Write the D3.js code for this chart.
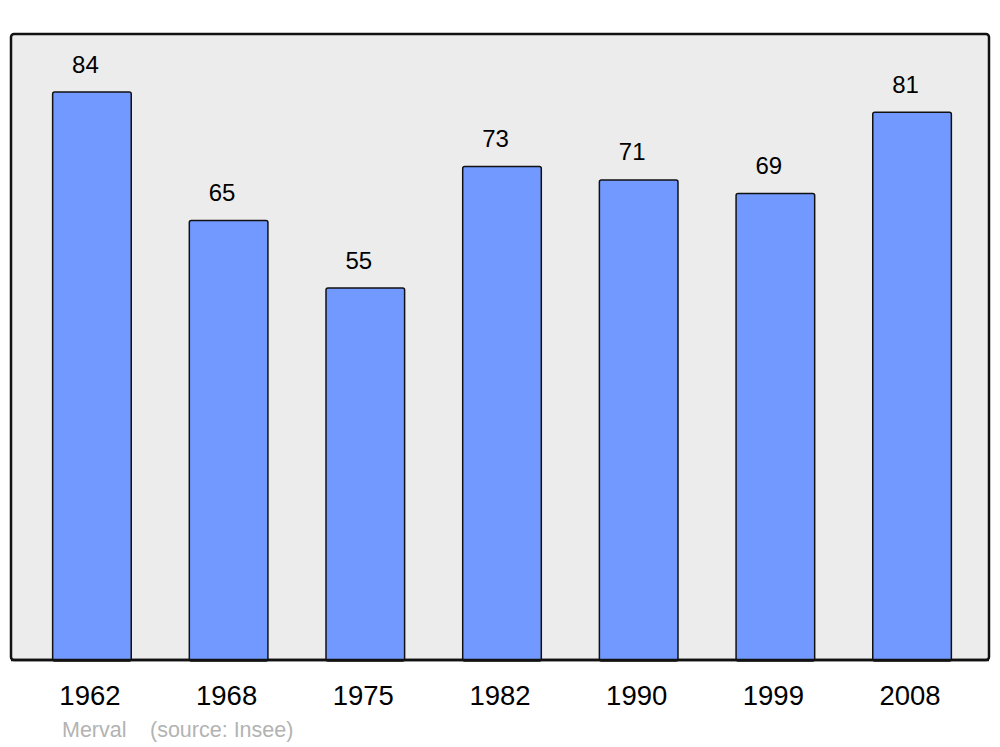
<!DOCTYPE html>
<html><head><meta charset="utf-8">
<script src="https://cdn.jsdelivr.net/npm/d3@7"></script>
<style>body{margin:0;background:#fff}svg{display:block}</style>
</head><body>
<svg id="c" width="1000" height="747"></svg>
<script>
const years = ["1962","1968","1975","1982","1990","1999","2008"];
const values = [84,65,55,73,71,69,81];
const sourceLabels = ["Merval","(source: Insee)"];

const svg = d3.select("#c");
const panel = {x0:11, x1:989, y0:34, y1:660};
const font = "'Liberation Sans', Arial, sans-serif";

svg.append("rect").attr("x",panel.x0).attr("y",panel.y0)
  .attr("width",panel.x1-panel.x0).attr("height",panel.y1-panel.y0)
  .attr("rx",3).attr("fill","#ececec").attr("stroke","#111").attr("stroke-width",2.5);

const x = d3.scaleBand().domain(years).range([13,991]).paddingInner(0.425).paddingOuter(0.29);
const y = d3.scaleLinear().domain([0,84]).range([panel.y1,92]);

svg.selectAll("rect.bar").data(values).join("rect").attr("class","bar")
  .attr("x",(d,i)=>x(years[i])).attr("y",d=>y(d))
  .attr("width",x.bandwidth()).attr("height",d=>panel.y1-y(d)+1)
  .attr("rx",2).attr("fill","#7299ff").attr("stroke","#111").attr("stroke-width",1.5);

svg.append("line").attr("x1",panel.x0).attr("x2",panel.x1).attr("y1",panel.y1).attr("y2",panel.y1)
  .attr("stroke","#111").attr("stroke-width",2.5);

svg.selectAll("text.val").data(values).join("text").attr("class","val")
  .attr("x",(d,i)=>x(years[i])+x.bandwidth()/2-6.5).attr("y",d=>y(d)-19.5)
  .attr("text-anchor","middle").attr("font-family",font).attr("font-size",24).attr("fill","#000")
  .text(d=>d);

const xAxis = d3.axisBottom(x).tickSize(0).tickPadding(0);
const ga = svg.append("g").attr("transform",`translate(-2,${panel.y1})`).call(xAxis);
ga.select(".domain").remove();
ga.selectAll("text").attr("y",44.5).attr("dy",0).attr("font-family",font).attr("font-size",27.5).attr("fill","#000");

svg.append("text").attr("x",62).attr("y",737).attr("font-family",font).attr("font-size",21.5).attr("fill","#b3b3b3").text(sourceLabels[0]);
svg.append("text").attr("x",150).attr("y",737).attr("font-family",font).attr("font-size",21.5).attr("fill","#b3b3b3").text(sourceLabels[1]);
</script>
</body></html>
